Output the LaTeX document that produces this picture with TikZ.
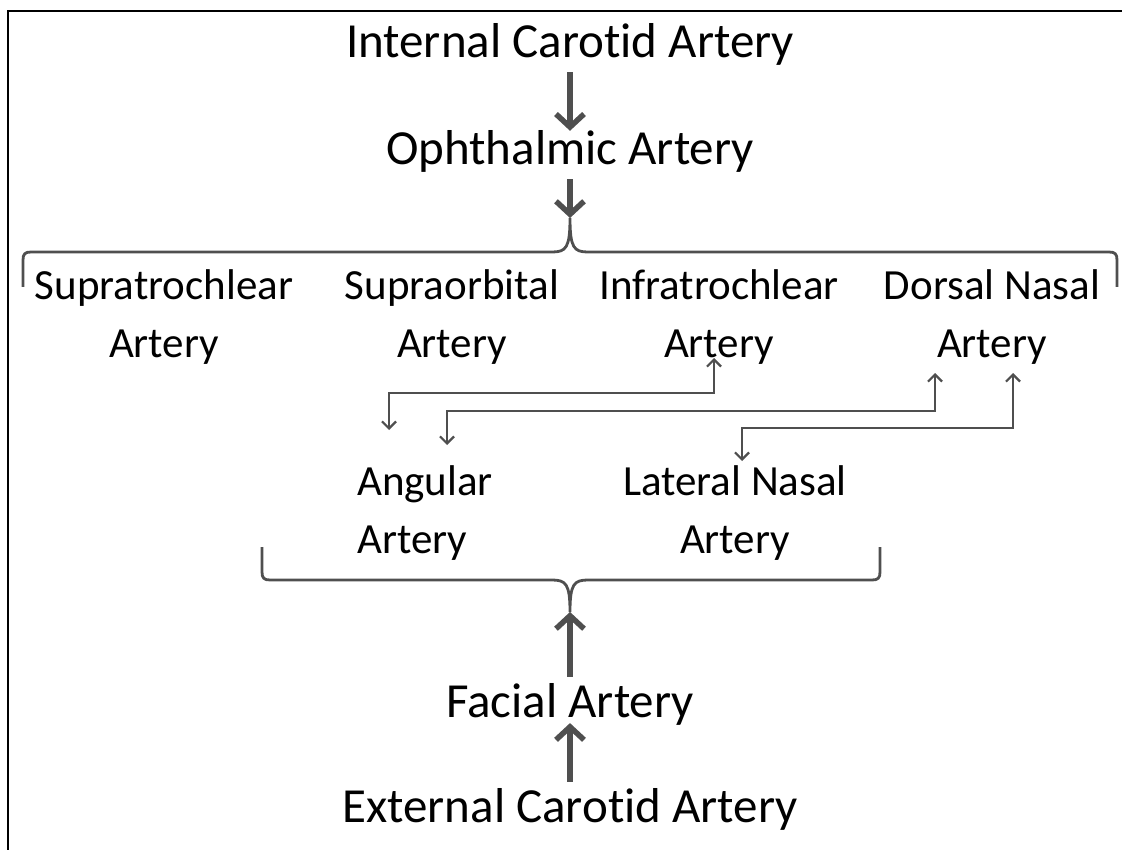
\documentclass[tikz,border=0pt]{standalone}
\usepackage{fontspec}
\setmainfont{Carlito}[Ligatures=NoCommon]
\usetikzlibrary{arrows.meta}
\definecolor{ag}{HTML}{4F4F4F}
\begin{document}
\begin{tikzpicture}[x=1pt,y=-1pt,
  big/.style={anchor=base,inner sep=0pt,font=\fontsize{49}{58}\selectfont},
  sub/.style={anchor=base,inner sep=0pt,align=center,font=\fontsize{43}{58}\selectfont},
  bigarr/.style={draw=ag,line width=6pt,-{Straight Barb[length=13pt,width=28pt,line width=5.5pt]}},
  thinarr/.style={draw=ag,line width=2.5pt,{Straight Barb[length=7pt,width=14pt,line width=2.2pt]}-{Straight Barb[length=7pt,width=14pt,line width=2.2pt]}},
  bracestyle/.style={draw=ag,line width=2.8pt}]
\useasboundingbox (0,0) rectangle (1122,850);
\clip (0,0) rectangle (1122,850);
\draw[line width=2.2pt] (8,1000) -- (8,11) -- (1200,11);

% text nodes (base anchor = baseline of the last line)
\node[big] (ica) at (570,58) {Internal Carotid Artery};
\node[big] (oph) at (570,165) {Ophthalmic Artery};
\node[sub] (supt) at (164,357) {Supratrochlear\\Artery};
\node[sub] (supo) at (452,357) {Supraorbital\\Artery};
\node[sub] (infra) at (719,357) {Infratrochlear\\Artery};
\node[sub] (dors) at (992,357) {Dorsal Nasal\\Artery};
\node[sub,anchor=base west,align=left] (ang) at (357,553) {Angular\\Artery};
\node[sub] (latn) at (735,553) {Lateral Nasal\\Artery};
\node[big] (fac) at (570,717) {Facial Artery};
\node[big] (eca) at (570,822) {External Carotid Artery};

% braces
\coordinate (toptip) at (570,218);
\coordinate (bottip) at (570,612);
\draw[bracestyle] (23,287) -- (23,260) .. controls (23,254) and (25,252) .. (31,252)
  -- (552,252) .. controls (566,252) and (570,248) .. (toptip)
  .. controls (570,248) and (574,252) .. (588,252)
  -- (1109,252) .. controls (1115,252) and (1117,254) .. (1117,260) -- (1117,287);
\draw[bracestyle] (262,547) -- (262,572) .. controls (262,578) and (264,580) .. (270,580)
  -- (552,580) .. controls (566,580) and (570,584) .. (bottip)
  .. controls (570,584) and (574,580) .. (588,580)
  -- (872,580) .. controls (878,580) and (880,578) .. (880,572) -- (880,547);

% thick arrows
\draw[bigarr,shorten <=6pt] (ica.south) -- (oph.north);
\draw[bigarr,shorten <=6pt] (oph.south) -- (toptip);
\draw[bigarr,shorten <=6pt] (fac.north) -- (bottip);
\draw[bigarr,shorten <=6pt,shorten >=-2pt] (eca.north) -- (fac.south);

% thin connectors
\coordinate (infraP) at (714,358);
\coordinate (angP1) at (389,430);
\coordinate (dorsP1) at (935,373);
\coordinate (angP2) at (447,445);
\coordinate (dorsP2) at (1013,373);
\coordinate (latP) at (742,461);
\draw[thinarr] (infraP) |- (551,393) -| (angP1);
\draw[thinarr] (dorsP1) |- (691,411) -| (angP2);
\draw[thinarr] (dorsP2) |- (878,428) -| (latP);
\end{tikzpicture}
\end{document}
